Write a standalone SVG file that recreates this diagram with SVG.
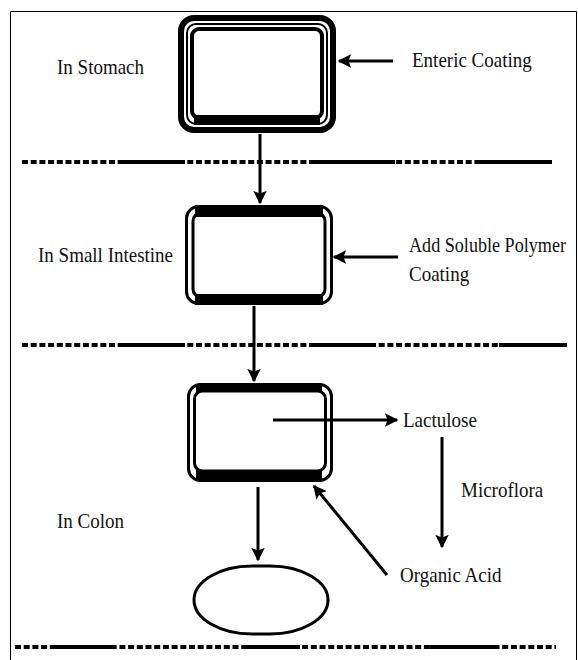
<svg xmlns="http://www.w3.org/2000/svg" width="578" height="660" viewBox="0 0 578 660">
<defs>
<marker id="ah" viewBox="0 0 10 10" refX="9" refY="5" markerWidth="4.5" markerHeight="4.5" orient="auto" markerUnits="strokeWidth">
<path d="M0,0 L10,5 L0,10 L2,5 z" fill="#000"/>
</marker>
<style>
.lbl{font-family:"Liberation Serif","Times New Roman",serif;font-size:19px;fill:#111}
.ln{stroke:#000;fill:none}
.dash{stroke:#000;stroke-width:4;stroke-dasharray:6 2.7;fill:none}
.solid{stroke:#000;stroke-width:4;fill:none}
.conn{stroke:#000;stroke-width:3;fill:none;marker-end:url(#ah)}
</style>
</defs>
<rect x="0" y="0" width="578" height="660" fill="#fff"/>
<path d="M10.5,660 V11.5 H576.5 V660" fill="none" stroke="#000" stroke-width="1"/>

<g id="separators">
<line class="dash" x1="22" y1="162" x2="552" y2="162"/>
<line class="solid" x1="120" y1="162" x2="185" y2="162"/>
<line class="solid" x1="315" y1="162" x2="395" y2="162"/>
<line class="solid" x1="480" y1="162" x2="552" y2="162"/>
<line class="dash" x1="22" y1="345" x2="567" y2="345"/>
<line class="solid" x1="120" y1="345" x2="185" y2="345"/>
<line class="solid" x1="315" y1="345" x2="371" y2="345"/>
<line class="solid" x1="499" y1="345" x2="565" y2="345"/>
<line class="dash" x1="15" y1="647" x2="556" y2="647"/>
<line class="solid" x1="52" y1="647" x2="116" y2="647"/>
<line class="solid" x1="245" y1="647" x2="300" y2="647"/>
<line class="solid" x1="430" y1="647" x2="495" y2="647"/>
</g>

<g id="node-stomach">
<rect class="ln" x="181" y="18" width="152" height="112" rx="13" stroke-width="6"/>
<rect class="ln" x="187" y="24" width="140" height="100" rx="9" stroke-width="2"/>
<rect class="ln" x="192" y="29" width="130" height="89" rx="7" stroke-width="4"/>
<rect x="194" y="115" width="126" height="10" fill="#000"/>
</g>

<g id="node-small-intestine">
<rect class="ln" x="186.5" y="206.5" width="145" height="97" rx="12" stroke-width="3"/>
<rect class="ln" x="193" y="213" width="132" height="84" rx="8" stroke-width="3"/>
<rect x="195" y="205" width="128" height="12" fill="#000"/>
<rect x="195" y="294" width="128" height="11" fill="#000"/>
</g>

<g id="node-colon">
<rect class="ln" x="188.5" y="384.5" width="143" height="96" rx="12" stroke-width="3"/>
<rect class="ln" x="194.5" y="391" width="131" height="80" rx="8" stroke-width="3"/>
<rect x="196" y="384" width="126" height="8" fill="#000"/>
<rect x="196" y="470" width="126" height="11" fill="#000"/>
</g>

<g id="node-released">
<rect class="ln" x="194" y="566" width="134" height="68" rx="58" ry="34" stroke-width="3"/>
</g>

<g id="connectors">
<line class="conn" x1="393" y1="61" x2="339" y2="61"/>
<line class="conn" x1="398" y1="257" x2="334" y2="257"/>
<line class="conn" x1="260" y1="134" x2="260" y2="203"/>
<line class="conn" x1="254" y1="306" x2="254" y2="381"/>
<line class="conn" x1="273" y1="420" x2="397" y2="420"/>
<line class="conn" x1="442" y1="437" x2="442" y2="547"/>
<line class="conn" x1="387" y1="575" x2="314" y2="486"/>
<line class="conn" x1="258" y1="487" x2="258" y2="560"/>
</g>

<g id="labels">
<text class="lbl" transform="translate(57,74) scale(1,1.15)">In Stomach</text>
<text class="lbl" transform="translate(412,67) scale(1,1.15)">Enteric Coating</text>
<text class="lbl" transform="translate(38,262) scale(1,1.15)">In Small Intestine</text>
<text class="lbl" transform="translate(409,252) scale(1,1.15)" textLength="157" lengthAdjust="spacingAndGlyphs">Add Soluble Polymer</text>
<text class="lbl" transform="translate(409,281) scale(1,1.15)">Coating</text>
<text class="lbl" transform="translate(403,427) scale(1,1.15)">Lactulose</text>
<text class="lbl" transform="translate(461,497) scale(1,1.15)">Microflora</text>
<text class="lbl" transform="translate(57,528) scale(1,1.15)">In Colon</text>
<text class="lbl" transform="translate(400,582) scale(1,1.15)">Organic Acid</text>
</g>
</svg>
